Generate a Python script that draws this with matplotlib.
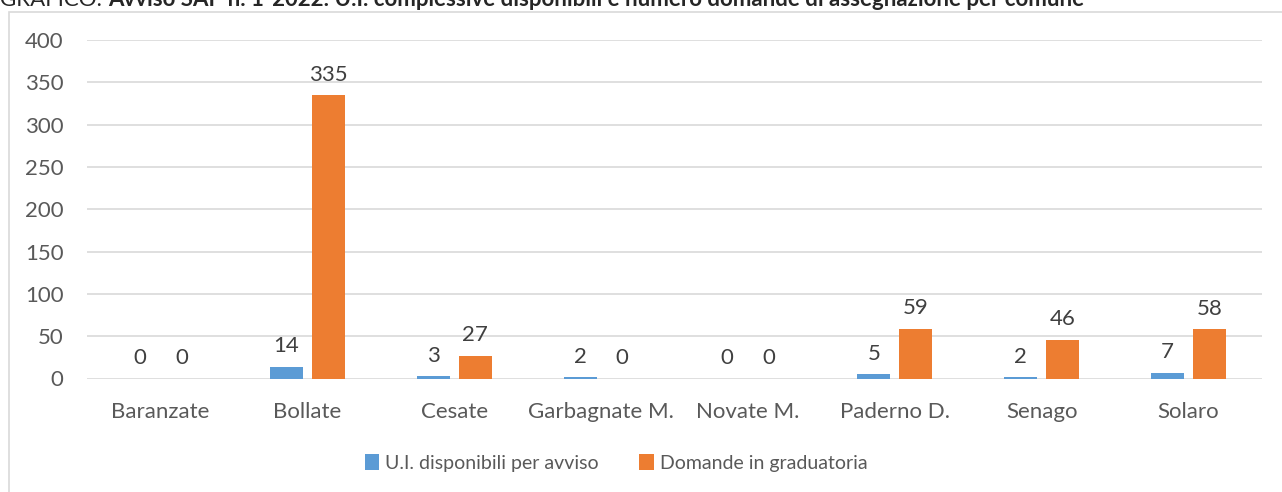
import matplotlib.pyplot as plt
from matplotlib.patches import Rectangle
import numpy as np

comuni = ['Baranzate', 'Bollate', 'Cesate', 'Garbagnate M.', 'Novate M.',
          'Paderno D.', 'Senago', 'Solaro']
ui_disponibili = [0, 14, 3, 2, 0, 5, 2, 7]
domande = [0, 335, 27, 0, 0, 59, 46, 58]
y_ticks = [0, 50, 100, 150, 200, 250, 300, 350, 400]

blue = '#5B9BD5'
orange = '#ED7D31'
grid_col = '#D9D9D9'
txt_col = '#595959'

plt.rcParams['font.family'] = ['Lato', 'DejaVu Sans']

fig = plt.figure(figsize=(12.82, 4.92), dpi=100)
ax = fig.add_axes([87 / 1282, 1 - 378.5 / 492, 1175 / 1282, 338.5 / 492])

# chart frame
fig.patches.append(Rectangle((9 / 1282, -0.1), 1.2, 1 - 12 / 492 + 0.1,
                             transform=fig.transFigure, fill=False,
                             edgecolor=grid_col, linewidth=1.2))

x = np.arange(len(comuni))
w = 0.225
off = 0.143
fs = 16
b1 = ax.bar(x - off, ui_disponibili, w, color=blue, label='U.I. disponibili per avviso')
b2 = ax.bar(x + off, domande, w, color=orange, label='Domande in graduatoria')

for bars, vals in ((b1, ui_disponibili), (b2, domande)):
    for b, v in zip(bars, vals):
        ax.text(b.get_x() + b.get_width() / 2, v + 12, str(v), ha='center',
                va='bottom', fontsize=fs, color='#404040')

ax.set_xlim(-0.5, len(comuni) - 0.5)
ax.set_ylim(0, 400)
ax.set_yticks(y_ticks)
ax.set_xticks(x)
ax.set_xticklabels(comuni)
ax.grid(axis='y', color=grid_col, linewidth=1.2)
ax.set_axisbelow(True)
for s in ax.spines.values():
    s.set_visible(False)
ax.tick_params(length=0, labelsize=fs, labelcolor=txt_col)
ax.tick_params(axis='y', pad=17)
ax.tick_params(axis='x', pad=17)

ax.legend(loc='center', bbox_to_anchor=(616 / 1282, 1 - 463 / 492),
          bbox_transform=fig.transFigure, ncol=2, frameon=False,
          fontsize=14, handlelength=0.75, handleheight=0.85,
          handletextpad=0.3, columnspacing=2.1, labelcolor=txt_col)

# title, partially cut at the top like the reference
t1 = fig.text(0.0, 1 - 6 / 492, 'GRAFICO: ', fontsize=16, color='#262626',
              ha='left', va='baseline')
fig.canvas.draw()
bb = t1.get_window_extent()
fig.text(bb.x1 / 1282, 1 - 6 / 492,
         'Avviso SAP n. 1-2022: U.I. complessive disponibili e numero domande di assegnazione per comune',
         fontsize=16, fontweight='bold', color='#262626', ha='left', va='baseline')

fig.savefig('out.png', dpi=100)
